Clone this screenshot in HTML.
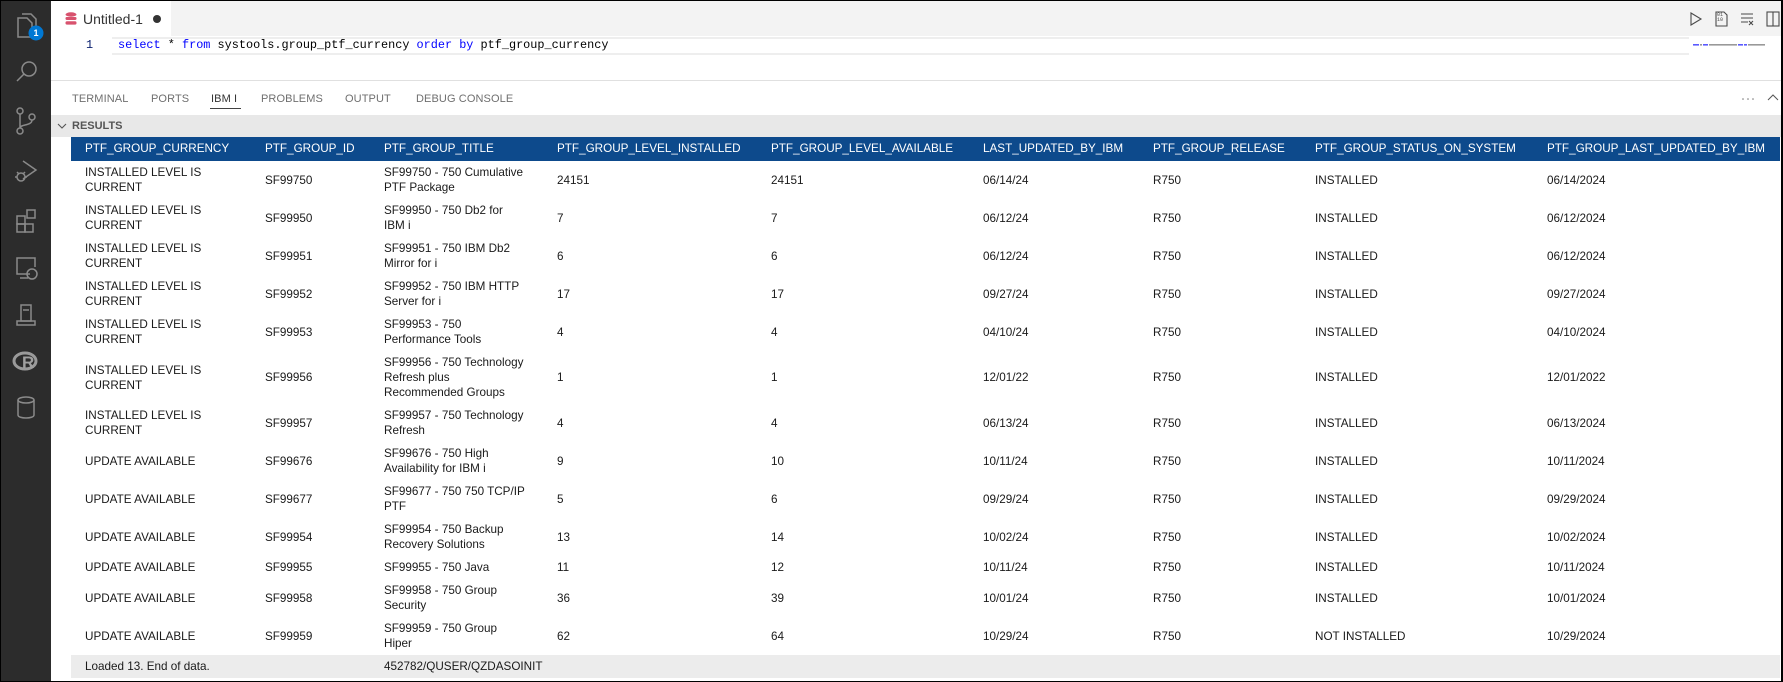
<!DOCTYPE html>
<html><head><meta charset="utf-8">
<style>
*{margin:0;padding:0;box-sizing:border-box}
html,body{width:1783px;height:682px;overflow:hidden;background:#000}
#app{position:absolute;left:1px;top:1px;width:1780px;height:680px;background:#fff;overflow:hidden;font-family:"Liberation Sans",Arial,sans-serif}
#side{position:absolute;left:0;top:0;width:50px;height:680px;background:#2c2c2c}
#side svg{position:absolute;left:0;top:0}
#tabbar{position:absolute;left:50px;top:0;width:1730px;height:35px;background:#f3f3f3}
#tab{position:absolute;left:50px;top:0;width:120px;height:36px;background:#fff}
.abs{position:absolute;white-space:nowrap}
.code{font-family:"Liberation Mono",monospace;font-size:11.85px;color:#000}
.kw{color:#0000ff}
.ptab{position:absolute;top:92px;font-size:11px;color:#6f6f6f;letter-spacing:0.1px}
#results{position:absolute;left:50px;top:114px;width:1730px;height:22px;background:#e8e8e8}
#hdr{position:absolute;left:70px;top:136px;width:1709px;height:24px;background:#0d4a8c}
.h{position:absolute;top:0;height:24px;line-height:24px;color:#fff;font-size:11.7px;white-space:nowrap}
.row{position:absolute;left:70px;width:1709px}
.c{position:absolute;top:0;height:100%;display:flex;align-items:center;white-space:nowrap;font-size:11.7px;line-height:15px;color:#1a1a1a}
#foot{position:absolute;left:70px;top:654px;width:1709px;height:23px;background:#ececec}
</style></head><body>
<div id="app">
  <div id="side">
    <svg width="50" height="680" viewBox="0 0 50 680" fill="none" stroke="#8a8a8a" stroke-width="1.5">
      <path d="M17 17 h9 l5 5 v14 h-14 z"/>
      <path d="M21 13 h9 l5 5 v14"/>
      <circle cx="35" cy="32" r="7.5" fill="#0078d4" stroke="none"/>
      <circle cx="28" cy="68" r="7"/>
      <path d="M23 73 L16 80"/>
      <circle cx="19" cy="110" r="3"/>
      <circle cx="19" cy="130" r="3"/>
      <circle cx="31" cy="116" r="3"/>
      <path d="M19 113 v14 M31 119 c0 6 -12 4 -12 8"/>
      <path d="M22 160 l13 9 l-13 9"/>
      <circle cx="20" cy="176" r="4"/>
      <path d="M14 176 h2 M24 176 h2 M16 171 l2 2 M24 171 l-2 2"/>
      <rect x="16" y="215" width="8" height="8"/>
      <rect x="16" y="223" width="8" height="8"/>
      <rect x="24" y="223" width="8" height="8"/>
      <rect x="26" y="209" width="8" height="8"/>
      <path d="M29 273 h-13 v-16 h18 v9"/>
      <path d="M19 277 h8"/>
      <circle cx="31" cy="273" r="5"/>
      <rect x="20" y="304" width="10" height="16"/>
      <path d="M16 320 h18 v4 h-18 z M22 309 h6"/>
      <ellipse cx="25" cy="399" rx="8" ry="3"/>
      <path d="M17 399 v15 c0 4 16 4 16 0 v-15"/>
    </svg>
    <div class="abs" style="left:31px;top:25px;width:8px;font-size:9px;font-weight:bold;color:#fff;text-align:center;line-height:14px">1</div>
    <svg width="50" height="30" style="top:347px" viewBox="0 0 50 30">
      <ellipse cx="24" cy="13" rx="11" ry="8" fill="none" stroke="#9a9a9a" stroke-width="3"/>
    </svg>
    <div class="abs" style="left:21px;top:352px;font-size:17px;font-weight:bold;color:#a0a0a0;line-height:20px">R</div>
  </div>

  <div id="tabbar"></div>
  <div id="tab"></div>
  <svg class="abs" style="left:64px;top:11px" width="12" height="14" viewBox="0 0 12 14">
    <ellipse cx="6" cy="2.5" rx="5.5" ry="2.2" fill="#d8526e"/>
    <rect x="0.5" y="5" width="11" height="3" rx="1.2" fill="#d8526e"/>
    <rect x="0.5" y="9.3" width="11" height="3.3" rx="1.5" fill="#d8526e"/>
  </svg>
  <div class="abs" style="left:82px;top:9px;font-size:14px;color:#333;line-height:18px">Untitled-1</div>
  <div class="abs" style="left:152px;top:14px;width:8px;height:8px;border-radius:50%;background:#333"></div>

  <svg class="abs" style="left:1685px;top:8px" width="95" height="20" viewBox="0 0 95 20" fill="none" stroke="#4a4a4a" stroke-width="1.1">
    <path d="M5 4 L15 10 L5 16 Z"/>
    <path d="M30 3 h8 l3 3 v11 h-11 z"/>
    <path d="M55 5 h12 M55 9 h12 M55 13 h7 M63 12 l4 4 M67 12 l-4 4"/>
    <rect x="81" y="3" width="12" height="14"/>
    <path d="M87 3 v14"/>
  </svg>
  <div class="abs" style="left:1716px;top:12px;font-family:'Liberation Mono',monospace;font-size:5px;line-height:5px;color:#4a4a4a">01<br>10</div>

  <div class="abs" style="left:111px;top:36px;width:1577px;height:18px;border-top:2px solid #eeeeee;border-bottom:2px solid #eeeeee"></div>
  <div class="abs code" style="left:85px;top:37px;line-height:15px;color:#0b216f">1</div>
  <div class="abs code" style="left:117px;top:37px;line-height:15px"><span class="kw">select</span> * <span class="kw">from</span> systools.group_ptf_currency <span class="kw">order</span> <span class="kw">by</span> ptf_group_currency</div>
  <svg class="abs" style="left:1690px;top:42px" width="80" height="4" viewBox="0 0 80 4">
    <rect x="2" y="1" width="6" height="1.6" fill="#5a5aff"/>
    <rect x="9" y="1" width="2" height="1.6" fill="#999"/>
    <rect x="12" y="1" width="5" height="1.6" fill="#5a5aff"/>
    <rect x="18" y="1" width="28" height="1.6" fill="#999"/>
    <rect x="47" y="1" width="5" height="1.6" fill="#5a5aff"/>
    <rect x="53" y="1" width="3" height="1.6" fill="#5a5aff"/>
    <rect x="57" y="1" width="17" height="1.6" fill="#999"/>
  </svg>

  <div class="abs" style="left:50px;top:79px;width:1730px;height:1px;background:#e0e0e0"></div>
  <div class="ptab" style="left:71px">TERMINAL</div>
  <div class="ptab" style="left:150px">PORTS</div>
  <div class="ptab" style="left:210px;color:#333">IBM I</div>
  <div class="abs" style="left:209px;top:107px;width:31px;height:1px;background:#424242"></div>
  <div class="ptab" style="left:260px">PROBLEMS</div>
  <div class="ptab" style="left:344px">OUTPUT</div>
  <div class="ptab" style="left:415px">DEBUG CONSOLE</div>
  <svg class="abs" style="left:1738px;top:90px" width="42" height="14" viewBox="0 0 42 14">
    <circle cx="4" cy="8" r="0.8" fill="#777"/><circle cx="9" cy="8" r="0.8" fill="#777"/><circle cx="14" cy="8" r="0.8" fill="#777"/>
    <path d="M29 9 L34 4 L39 9" fill="none" stroke="#555" stroke-width="1"/>
  </svg>

  <div id="results"></div>
  <svg class="abs" style="left:56px;top:121px" width="10" height="8" viewBox="0 0 10 8"><path d="M1 2 L5 6 L9 2" fill="none" stroke="#555" stroke-width="1.1"/></svg>
  <div class="abs" style="left:71px;top:118px;font-size:11px;font-weight:bold;color:#555;line-height:15px">RESULTS</div>

  <div id="hdr">
    <div class="h" style="left:14px">PTF_GROUP_CURRENCY</div>
    <div class="h" style="left:194px">PTF_GROUP_ID</div>
    <div class="h" style="left:313px">PTF_GROUP_TITLE</div>
    <div class="h" style="left:486px">PTF_GROUP_LEVEL_INSTALLED</div>
    <div class="h" style="left:700px">PTF_GROUP_LEVEL_AVAILABLE</div>
    <div class="h" style="left:912px">LAST_UPDATED_BY_IBM</div>
    <div class="h" style="left:1082px">PTF_GROUP_RELEASE</div>
    <div class="h" style="left:1244px">PTF_GROUP_STATUS_ON_SYSTEM</div>
    <div class="h" style="left:1476px">PTF_GROUP_LAST_UPDATED_BY_IBM</div>
  </div>

  <div class="row" style="top:160px;height:38px">
    <div class="c" style="left:14px">INSTALLED LEVEL IS<br>CURRENT</div><div class="c" style="left:194px">SF99750</div><div class="c" style="left:313px">SF99750 - 750 Cumulative<br>PTF Package</div><div class="c" style="left:486px">24151</div><div class="c" style="left:700px">24151</div><div class="c" style="left:912px">06/14/24</div><div class="c" style="left:1082px">R750</div><div class="c" style="left:1244px">INSTALLED</div><div class="c" style="left:1476px">06/14/2024</div>
  </div>
  <div class="row" style="top:198px;height:38px">
    <div class="c" style="left:14px">INSTALLED LEVEL IS<br>CURRENT</div><div class="c" style="left:194px">SF99950</div><div class="c" style="left:313px">SF99950 - 750 Db2 for<br>IBM i</div><div class="c" style="left:486px">7</div><div class="c" style="left:700px">7</div><div class="c" style="left:912px">06/12/24</div><div class="c" style="left:1082px">R750</div><div class="c" style="left:1244px">INSTALLED</div><div class="c" style="left:1476px">06/12/2024</div>
  </div>
  <div class="row" style="top:236px;height:38px">
    <div class="c" style="left:14px">INSTALLED LEVEL IS<br>CURRENT</div><div class="c" style="left:194px">SF99951</div><div class="c" style="left:313px">SF99951 - 750 IBM Db2<br>Mirror for i</div><div class="c" style="left:486px">6</div><div class="c" style="left:700px">6</div><div class="c" style="left:912px">06/12/24</div><div class="c" style="left:1082px">R750</div><div class="c" style="left:1244px">INSTALLED</div><div class="c" style="left:1476px">06/12/2024</div>
  </div>
  <div class="row" style="top:274px;height:38px">
    <div class="c" style="left:14px">INSTALLED LEVEL IS<br>CURRENT</div><div class="c" style="left:194px">SF99952</div><div class="c" style="left:313px">SF99952 - 750 IBM HTTP<br>Server for i</div><div class="c" style="left:486px">17</div><div class="c" style="left:700px">17</div><div class="c" style="left:912px">09/27/24</div><div class="c" style="left:1082px">R750</div><div class="c" style="left:1244px">INSTALLED</div><div class="c" style="left:1476px">09/27/2024</div>
  </div>
  <div class="row" style="top:312px;height:38px">
    <div class="c" style="left:14px">INSTALLED LEVEL IS<br>CURRENT</div><div class="c" style="left:194px">SF99953</div><div class="c" style="left:313px">SF99953 - 750<br>Performance Tools</div><div class="c" style="left:486px">4</div><div class="c" style="left:700px">4</div><div class="c" style="left:912px">04/10/24</div><div class="c" style="left:1082px">R750</div><div class="c" style="left:1244px">INSTALLED</div><div class="c" style="left:1476px">04/10/2024</div>
  </div>
  <div class="row" style="top:350px;height:53px">
    <div class="c" style="left:14px">INSTALLED LEVEL IS<br>CURRENT</div><div class="c" style="left:194px">SF99956</div><div class="c" style="left:313px">SF99956 - 750 Technology<br>Refresh plus<br>Recommended Groups</div><div class="c" style="left:486px">1</div><div class="c" style="left:700px">1</div><div class="c" style="left:912px">12/01/22</div><div class="c" style="left:1082px">R750</div><div class="c" style="left:1244px">INSTALLED</div><div class="c" style="left:1476px">12/01/2022</div>
  </div>
  <div class="row" style="top:403px;height:38px">
    <div class="c" style="left:14px">INSTALLED LEVEL IS<br>CURRENT</div><div class="c" style="left:194px">SF99957</div><div class="c" style="left:313px">SF99957 - 750 Technology<br>Refresh</div><div class="c" style="left:486px">4</div><div class="c" style="left:700px">4</div><div class="c" style="left:912px">06/13/24</div><div class="c" style="left:1082px">R750</div><div class="c" style="left:1244px">INSTALLED</div><div class="c" style="left:1476px">06/13/2024</div>
  </div>
  <div class="row" style="top:441px;height:38px">
    <div class="c" style="left:14px">UPDATE AVAILABLE</div><div class="c" style="left:194px">SF99676</div><div class="c" style="left:313px">SF99676 - 750 High<br>Availability for IBM i</div><div class="c" style="left:486px">9</div><div class="c" style="left:700px">10</div><div class="c" style="left:912px">10/11/24</div><div class="c" style="left:1082px">R750</div><div class="c" style="left:1244px">INSTALLED</div><div class="c" style="left:1476px">10/11/2024</div>
  </div>
  <div class="row" style="top:479px;height:38px">
    <div class="c" style="left:14px">UPDATE AVAILABLE</div><div class="c" style="left:194px">SF99677</div><div class="c" style="left:313px">SF99677 - 750 750 TCP/IP<br>PTF</div><div class="c" style="left:486px">5</div><div class="c" style="left:700px">6</div><div class="c" style="left:912px">09/29/24</div><div class="c" style="left:1082px">R750</div><div class="c" style="left:1244px">INSTALLED</div><div class="c" style="left:1476px">09/29/2024</div>
  </div>
  <div class="row" style="top:517px;height:38px">
    <div class="c" style="left:14px">UPDATE AVAILABLE</div><div class="c" style="left:194px">SF99954</div><div class="c" style="left:313px">SF99954 - 750 Backup<br>Recovery Solutions</div><div class="c" style="left:486px">13</div><div class="c" style="left:700px">14</div><div class="c" style="left:912px">10/02/24</div><div class="c" style="left:1082px">R750</div><div class="c" style="left:1244px">INSTALLED</div><div class="c" style="left:1476px">10/02/2024</div>
  </div>
  <div class="row" style="top:555px;height:23px">
    <div class="c" style="left:14px">UPDATE AVAILABLE</div><div class="c" style="left:194px">SF99955</div><div class="c" style="left:313px">SF99955 - 750 Java</div><div class="c" style="left:486px">11</div><div class="c" style="left:700px">12</div><div class="c" style="left:912px">10/11/24</div><div class="c" style="left:1082px">R750</div><div class="c" style="left:1244px">INSTALLED</div><div class="c" style="left:1476px">10/11/2024</div>
  </div>
  <div class="row" style="top:578px;height:38px">
    <div class="c" style="left:14px">UPDATE AVAILABLE</div><div class="c" style="left:194px">SF99958</div><div class="c" style="left:313px">SF99958 - 750 Group<br>Security</div><div class="c" style="left:486px">36</div><div class="c" style="left:700px">39</div><div class="c" style="left:912px">10/01/24</div><div class="c" style="left:1082px">R750</div><div class="c" style="left:1244px">INSTALLED</div><div class="c" style="left:1476px">10/01/2024</div>
  </div>
  <div class="row" style="top:616px;height:38px">
    <div class="c" style="left:14px">UPDATE AVAILABLE</div><div class="c" style="left:194px">SF99959</div><div class="c" style="left:313px">SF99959 - 750 Group<br>Hiper</div><div class="c" style="left:486px">62</div><div class="c" style="left:700px">64</div><div class="c" style="left:912px">10/29/24</div><div class="c" style="left:1082px">R750</div><div class="c" style="left:1244px">NOT INSTALLED</div><div class="c" style="left:1476px">10/29/2024</div>
  </div>

  <div id="foot">
    <div class="c" style="left:14px">Loaded 13. End of data.</div>
    <div class="c" style="left:313px">452782/QUSER/QZDASOINIT</div>
  </div>
</div>
</body></html>
